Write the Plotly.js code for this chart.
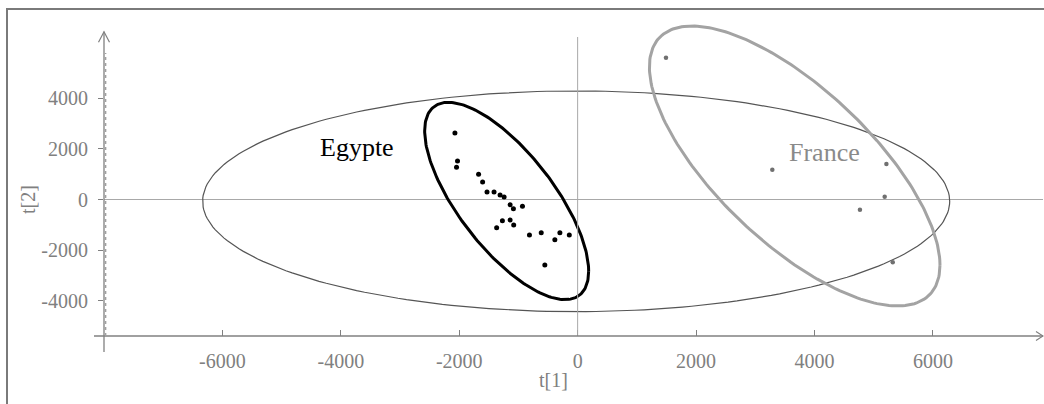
<!DOCTYPE html>
<html>
<head>
<meta charset="utf-8">
<script src="https://cdn.plot.ly/plotly-3.0.1.min.js"></script>
<style>
  html, body { margin: 0; padding: 0; background: #fff; }
  #chart { width: 1044px; height: 404px; }
</style>
</head>
<body>
<div id="chart"></div>
<script>
// ---- data ----
const egyptT1 = [-2073, -2029, -2046, -1673, -1605, -1531, -1412, -1310, -1242, -1141, -1085, -932, -1271, -1141, -1368, -1080, -814, -615, -385, -300, -141, -554];
const egyptT2 = [2628, 1522, 1273, 996, 692, 296, 296, 178, 99, -206, -364, -269, -838, -810, -1115, -1008, -1403, -1312, -1589, -1312, -1403, -2589];
const franceT1 = [1492, 3288, 5215, 5186, 4768, 5322];
const franceT2 = [5605, 1178, 1403, 111, -403, -2482];

// ellipses: center, cosine vector, sine vector (data units)
const hotellingCenter = [-25, -70];
const hotellingCos = [6309, 0];
const hotellingSin = [0, 4362];
const egyptCenter = [-1199, -59];
const egyptCos = [1385, -2771];
const egyptSin = [0, -2743];
const franceCenter = [3666, 1324];
const franceCos = [2454, -3917];
const franceSin = [0, -3909];

const xTicks = [-6000, -4000, -2000, 0, 2000, 4000, 6000];
const yTicks = [-4000, -2000, 0, 2000, 4000];
const groupLabels = ["Egypte", "France"];
const groupLabelX = [-3733, 4172];
const groupLabelY = [2036, 1858];
const axisTitles = ["t[1]", "t[2]"];

function ellipse(c, u, v) {
  const xs = [], ys = [];
  const n = 240;
  for (let i = 0; i <= n; i++) {
    const t = 2 * Math.PI * i / n;
    xs.push(c[0] + u[0] * Math.cos(t) + v[0] * Math.sin(t));
    ys.push(c[1] + u[1] * Math.cos(t) + v[1] * Math.sin(t));
  }
  return {x: xs, y: ys};
}

const eH = ellipse(hotellingCenter, hotellingCos, hotellingSin);
const eE = ellipse(egyptCenter, egyptCos, egyptSin);
const eF = ellipse(franceCenter, franceCos, franceSin);

const serif = "Liberation Serif, Times New Roman, serif";
const gray = "#808080";

// plot area: x 104..1043 px, y 20..336 px
const PT = 20, PB = 336, PH = PB - PT;
const py = (pix) => (PB - pix) / PH;   // pixel row -> paper y
const px = (pix) => (pix - 104) / 939; // pixel col -> paper x

const traces = [
  {x: eH.x, y: eH.y, mode: "lines", line: {color: "#555555", width: 1.2}, hoverinfo: "skip"},
  {x: eE.x, y: eE.y, mode: "lines", line: {color: "#000000", width: 3}, hoverinfo: "skip"},
  {x: eF.x, y: eF.y, mode: "lines", line: {color: "#a3a3a3", width: 3}, hoverinfo: "skip"},
  {x: egyptT1, y: egyptT2, mode: "markers", marker: {color: "#000000", size: 5}},
  {x: franceT1, y: franceT2, mode: "markers", marker: {color: "#707070", size: 4.5}}
];

const layout = {
  width: 1044, height: 404,
  margin: {l: 104, r: 1, t: PT, b: 404 - PB},
  paper_bgcolor: "#ffffff", plot_bgcolor: "#ffffff",
  showlegend: false,
  font: {family: serif, color: gray, size: 20},
  xaxis: {
    range: [-8000, 7860], tickvals: xTicks, ticktext: xTicks.map(String),
    showgrid: false, zeroline: false,
    showline: false, ticks: "inside", ticklen: 6, tickcolor: gray, tickwidth: 1,
    tickfont: {family: serif, size: 20, color: gray},
    ticklabelstandoff: 11
  },
  yaxis: {
    range: [(199.5 - PB) / 0.0253, (199.5 - PT) / 0.0253], tickvals: yTicks, ticktext: yTicks.map(String),
    showgrid: false, zeroline: true, zerolinecolor: "#a8a8a8", zerolinewidth: 1,
    showline: false, ticks: "outside", ticklen: 5, tickcolor: gray, tickwidth: 1,
    tickfont: {family: serif, size: 20, color: gray},
    ticklabelstandoff: 6
  },
  annotations: [
    {x: groupLabelX[0], y: groupLabelY[0], text: groupLabels[0], showarrow: false,
     xanchor: "center", yanchor: "middle", font: {family: serif, size: 26, color: "#000000"}},
    {x: groupLabelX[1], y: groupLabelY[1], text: groupLabels[1], showarrow: false,
     xanchor: "center", yanchor: "middle", font: {family: serif, size: 26, color: "#8a8a8a"}},
    // axis titles
    {xref: "paper", yref: "paper", x: px(553), y: py(380),
     text: axisTitles[0], showarrow: false, xanchor: "center", yanchor: "middle",
     font: {family: serif, size: 20, color: gray}},
    {xref: "paper", yref: "paper", x: px(28), y: py(200),
     text: axisTitles[1], showarrow: false, xanchor: "center", yanchor: "middle", textangle: -90,
     font: {family: serif, size: 20, color: gray}}
  ],
  shapes: [
    // outer frame (left + top)
    {type: "path", xref: "paper", yref: "paper",
     path: "M " + px(7) + "," + py(420) + " L " + px(7) + "," + py(9) + " L " + px(1060) + "," + py(9),
     line: {color: "#7a7a7a", width: 2}},
    // vertical reference line at t[1] = 0
    {type: "line", xref: "x", yref: "paper", x0: 0, x1: 0, y0: 0, y1: py(37),
     line: {color: "#a8a8a8", width: 1}},
    // x axis line (extends a bit left of y axis)
    {type: "line", xref: "paper", yref: "paper", x0: px(94), x1: 1, y0: 0, y1: 0,
     line: {color: gray, width: 1.3}},
    // y axis line (extends a bit below x axis)
    {type: "line", xref: "paper", yref: "paper", x0: 0, x1: 0, y0: py(352), y1: py(31.7),
     line: {color: gray, width: 1.3}},
    // dotted companion of y axis
    {type: "line", xref: "paper", yref: "paper", x0: px(105.6), x1: px(105.6), y0: 0, y1: py(53),
     line: {color: "#a0a0a0", width: 1.5, dash: "dot"}},
    // y arrow head
    {type: "path", xref: "paper", yref: "paper", xsizemode: "pixel", ysizemode: "pixel",
     xanchor: 0, yanchor: py(31.7),
     path: "M -5.5,-10.5 L 0,0 L 5.5,-10.5", line: {color: gray, width: 1.2}},
    // x arrow head
    {type: "path", xref: "paper", yref: "paper", xsizemode: "pixel", ysizemode: "pixel",
     xanchor: 1, yanchor: 0,
     path: "M -7,4.5 L 0,0 L -7,-4.5", line: {color: gray, width: 1.2}}
  ]
};

Plotly.newPlot("chart", traces, layout, {displayModeBar: false, staticPlot: true});
</script>
</body>
</html>
